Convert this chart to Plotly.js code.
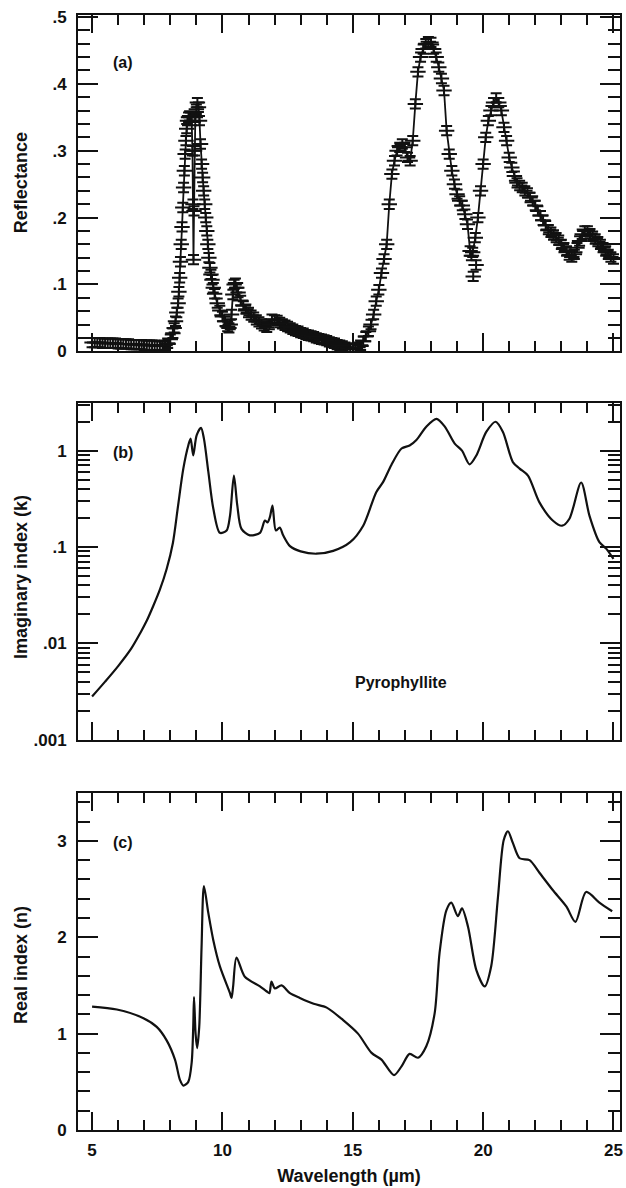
<!DOCTYPE html>
<html>
<head>
<meta charset="utf-8">
<script src="https://cdn.plot.ly/plotly-3.0.1.min.js"></script>
<style>html,body{margin:0;padding:0;background:#fff;}#chart{width:626px;height:1188px;}</style>
</head>
<body>
<div id="chart"></div>
<script>
// ---- Panel (a): measured reflectance ----
const wavelengthA = [5.0,5.1,5.2,5.3,5.4,5.5,5.6,5.7,5.8,5.9,6.0,6.1,6.2,6.3,6.4,6.5,6.6,6.7,6.8,6.9,7.0,7.1,7.2,7.3,7.4,7.5,7.6,7.7,7.8,7.9,8.0,8.1,8.15,8.2,8.25,8.3,8.33,8.36,8.39,8.42,8.45,8.48,8.51,8.54,8.57,8.6,8.63,8.66,8.7,8.74,8.78,8.82,8.85,8.87,8.89,8.91,8.93,8.96,9.0,9.04,9.08,9.12,9.16,9.2,9.24,9.28,9.32,9.36,9.4,9.44,9.48,9.52,9.56,9.6,9.65,9.7,9.8,9.9,10.0,10.1,10.2,10.25,10.3,10.35,10.4,10.45,10.5,10.55,10.6,10.7,10.8,10.9,11.0,11.1,11.2,11.3,11.4,11.5,11.6,11.7,11.8,11.9,12.0,12.1,12.2,12.3,12.4,12.5,12.6,12.7,12.8,12.9,13.0,13.1,13.2,13.3,13.4,13.5,13.6,13.7,13.8,13.9,14.0,14.1,14.2,14.3,14.4,14.5,14.6,14.7,14.8,14.9,15.0,15.1,15.2,15.3,15.4,15.5,15.6,15.7,15.8,15.9,16.0,16.1,16.2,16.3,16.4,16.5,16.6,16.7,16.8,16.9,17.0,17.1,17.2,17.3,17.4,17.5,17.6,17.7,17.8,17.9,18.0,18.1,18.2,18.3,18.4,18.5,18.6,18.7,18.8,18.9,19.0,19.1,19.2,19.3,19.4,19.5,19.55,19.6,19.7,19.8,19.9,20.0,20.1,20.2,20.3,20.4,20.5,20.6,20.7,20.8,20.9,21.0,21.1,21.2,21.3,21.4,21.5,21.6,21.7,21.8,21.9,22.0,22.1,22.2,22.3,22.4,22.5,22.6,22.7,22.8,22.9,23.0,23.1,23.2,23.3,23.4,23.5,23.6,23.7,23.8,23.9,24.0,24.1,24.2,24.3,24.4,24.5,24.6,24.7,24.8,24.9,25.0];
const reflectance = [0.013,0.013,0.013,0.013,0.012,0.012,0.012,0.012,0.012,0.012,0.011,0.011,0.011,0.011,0.011,0.010,0.010,0.010,0.010,0.010,0.009,0.009,0.009,0.009,0.009,0.008,0.008,0.008,0.009,0.012,0.018,0.027,0.035,0.045,0.058,0.072,0.089,0.110,0.134,0.160,0.186,0.215,0.245,0.270,0.295,0.315,0.333,0.345,0.350,0.352,0.350,0.345,0.300,0.220,0.137,0.210,0.300,0.350,0.362,0.372,0.365,0.345,0.310,0.280,0.260,0.240,0.220,0.200,0.180,0.160,0.140,0.125,0.115,0.107,0.095,0.086,0.072,0.061,0.052,0.045,0.037,0.035,0.040,0.055,0.085,0.100,0.102,0.095,0.088,0.076,0.068,0.063,0.058,0.054,0.051,0.047,0.044,0.041,0.038,0.036,0.040,0.048,0.047,0.046,0.043,0.041,0.039,0.037,0.035,0.033,0.031,0.030,0.028,0.027,0.025,0.024,0.023,0.022,0.020,0.019,0.018,0.017,0.016,0.014,0.013,0.012,0.010,0.009,0.008,0.006,0.005,0.004,0.003,0.004,0.006,0.009,0.015,0.022,0.030,0.040,0.055,0.075,0.092,0.117,0.138,0.160,0.220,0.265,0.285,0.300,0.305,0.310,0.305,0.290,0.285,0.315,0.370,0.418,0.440,0.452,0.460,0.463,0.462,0.452,0.440,0.425,0.408,0.390,0.330,0.295,0.270,0.250,0.235,0.225,0.218,0.205,0.190,0.150,0.143,0.148,0.170,0.200,0.240,0.280,0.320,0.345,0.360,0.372,0.379,0.372,0.360,0.335,0.315,0.290,0.275,0.262,0.252,0.248,0.245,0.240,0.237,0.230,0.225,0.218,0.210,0.203,0.196,0.188,0.182,0.178,0.174,0.170,0.166,0.160,0.155,0.150,0.144,0.141,0.145,0.155,0.165,0.175,0.180,0.180,0.176,0.172,0.168,0.164,0.160,0.155,0.150,0.145,0.141,0.138];
const outlierWavelength = [19.62, 19.73];
const outlierReflectance = [0.112, 0.129];
const reflectanceError = 0.007;

// ---- Panel (b): imaginary index k ----
const wavelengthK = [5.0,5.5,6.0,6.5,6.85,7.1,7.35,7.6,7.86,8.1,8.3,8.5,8.69,8.78,8.88,9.01,9.18,9.29,9.46,9.65,9.9,10.16,10.29,10.44,10.57,10.73,11.05,11.44,11.63,11.73,11.82,11.92,12.05,12.2,12.33,12.59,13.0,13.6,14.25,14.9,15.4,15.9,16.16,16.48,16.87,17.18,17.44,17.82,18.21,18.53,18.91,19.19,19.48,19.74,20.12,20.48,20.76,21.14,21.4,21.72,22.16,22.67,23.03,23.31,23.76,24.08,24.46,24.72,25.0];
const kValues = [0.0028,0.0040,0.0058,0.0088,0.0128,0.0172,0.0245,0.036,0.059,0.11,0.27,0.65,1.13,1.33,0.89,1.44,1.72,1.33,0.60,0.25,0.14,0.148,0.21,0.55,0.27,0.154,0.132,0.14,0.188,0.18,0.204,0.269,0.148,0.159,0.132,0.102,0.09,0.085,0.091,0.112,0.166,0.37,0.47,0.71,1.05,1.13,1.29,1.77,2.13,1.77,1.18,1.0,0.72,0.89,1.56,1.99,1.56,0.76,0.65,0.55,0.29,0.188,0.166,0.196,0.466,0.21,0.112,0.096,0.075];

// ---- Panel (c): real index n ----
const wavelengthN = [5.0,5.95,6.97,7.48,7.86,8.18,8.37,8.5,8.69,8.82,8.88,8.91,8.97,9.03,9.11,9.2,9.29,9.46,9.65,9.9,10.29,10.35,10.41,10.54,10.86,11.44,11.69,11.8,11.88,12.01,12.27,12.59,12.97,13.5,14.0,14.63,15.2,15.72,16.1,16.58,16.87,17.18,17.5,17.82,18.14,18.33,18.59,18.78,19.03,19.19,19.42,19.74,20.06,20.31,20.57,20.79,20.95,21.14,21.4,21.78,22.16,22.67,23.19,23.54,23.95,24.46,24.95];
const nValues = [1.28,1.25,1.16,1.07,0.93,0.73,0.52,0.46,0.50,0.70,1.07,1.38,1.0,0.85,1.07,1.90,2.53,2.25,1.97,1.70,1.42,1.37,1.49,1.79,1.59,1.49,1.44,1.42,1.54,1.47,1.50,1.42,1.37,1.31,1.27,1.14,1.0,0.80,0.73,0.57,0.66,0.79,0.75,0.87,1.21,1.84,2.28,2.36,2.22,2.30,2.11,1.66,1.49,1.70,2.42,3.01,3.10,2.98,2.82,2.80,2.67,2.49,2.32,2.16,2.47,2.36,2.27];

// ---- Tick labels ----
const xTickVals = [5,10,15,20,25];
const xTickText = ['5','10','15','20','25'];
const aTickVals = [0,0.1,0.2,0.3,0.4,0.5];
const aTickText = ['0','.1','.2','.3','.4','.5'];
const bTickVals = [0.001,0.01,0.1,1];
const bTickText = ['.001','.01','.1','1'];
const bMinorVals = [];
[0.001,0.01,0.1,1].forEach(d => { for (let m = 2; m <= 9; m++) bMinorVals.push(d*m); });
const cTickVals = [0,1,2,3];
const cTickText = ['0','1','2','3'];

const FONT = 'Liberation Sans, Arial, Helvetica, sans-serif';
const black = '#111';
const tickFont = {family: FONT, size: 17, color: black, weight: 'bold'};

function xAxis(showLabels, anchor) {
  return {
    range: [4.46, 25.25], anchor: anchor,
    showline: true, linewidth: 2, linecolor: black, mirror: 'ticks',
    ticks: 'inside', ticklen: 18, tickwidth: 2, tickcolor: black,
    tickmode: 'array', tickvals: xTickVals, ticktext: xTickText,
    showticklabels: showLabels, tickfont: tickFont, ticklabelstandoff: 4,
    minor: {tickmode: 'linear', tick0: 0, dtick: 1, ticks: 'inside', ticklen: 10, tickwidth: 2, tickcolor: black, showgrid: false},
    showgrid: false, zeroline: false, fixedrange: true
  };
}
function yAxisBase(domain, anchor) {
  return {
    domain: domain, anchor: anchor,
    showline: true, linewidth: 2, linecolor: black, mirror: 'ticks',
    ticks: 'inside', ticklen: 20, tickwidth: 2, tickcolor: black,
    tickfont: tickFont, ticklabelstandoff: 6,
    showgrid: false, zeroline: false, fixedrange: true
  };
}

const yA = Object.assign(yAxisBase([0.6984, 1.0], 'x3'), {
  range: [0, 0.503], tickmode: 'array', tickvals: aTickVals, ticktext: aTickText,
  minor: {tickmode: 'linear', tick0: 0, dtick: 0.02, ticks: 'inside', ticklen: 12, tickwidth: 2, tickcolor: black, showgrid: false}
});
const yB = Object.assign(yAxisBase([0.3501, 0.6517], 'x2'), {
  type: 'log', range: [-3, 0.49], tickmode: 'array', tickvals: bTickVals, ticktext: bTickText,
  minor: {tickmode: 'array', tickvals: bMinorVals, ticks: 'inside', ticklen: 12, tickwidth: 2, tickcolor: black, showgrid: false}
});
const yC = Object.assign(yAxisBase([0, 0.3025], 'x'), {
  range: [0, 3.5], tickmode: 'array', tickvals: cTickVals, ticktext: cTickText,
  minor: {tickmode: 'linear', tick0: 0, dtick: 0.2, ticks: 'inside', ticklen: 12, tickwidth: 2, tickcolor: black, showgrid: false}
});

const traces = [
  {
    x: wavelengthA, y: reflectance, xaxis: 'x3', yaxis: 'y3', type: 'scatter', mode: 'lines+markers',
    line: {color: black, width: 1.8},
    marker: {symbol: 'line-ew', size: 11, color: black, line: {color: black, width: 2}},
    error_y: {type: 'constant', value: reflectanceError, visible: true, color: black, thickness: 2, width: 5.5},
    hoverinfo: 'skip', showlegend: false
  },
  {
    x: outlierWavelength, y: outlierReflectance, xaxis: 'x3', yaxis: 'y3', type: 'scatter', mode: 'markers',
    marker: {symbol: 'line-ew', size: 11, color: black, line: {color: black, width: 2}},
    error_y: {type: 'constant', value: reflectanceError, visible: true, color: black, thickness: 2, width: 5.5},
    hoverinfo: 'skip', showlegend: false
  },
  {
    x: wavelengthK, y: kValues, xaxis: 'x2', yaxis: 'y2', type: 'scatter', mode: 'lines',
    line: {color: black, width: 2.2, shape: 'spline', smoothing: 0.8},
    hoverinfo: 'skip', showlegend: false
  },
  {
    x: wavelengthN, y: nValues, xaxis: 'x', yaxis: 'y', type: 'scatter', mode: 'lines',
    line: {color: black, width: 2.2, shape: 'spline', smoothing: 0.8},
    hoverinfo: 'skip', showlegend: false
  }
];

const titleFont = {family: FONT, size: 18, color: black, weight: 'bold'};
const labelFont = {family: FONT, size: 16, color: black, weight: 'bold'};
const yTitleX = (21 - 78) / 542;

const layout = {
  width: 626, height: 1188,
  margin: {l: 78, r: 6, t: 15, b: 58},
  paper_bgcolor: '#fff', plot_bgcolor: '#fff',
  showlegend: false,
  xaxis: Object.assign(xAxis(true, 'y'), {title: {text: 'Wavelength (µm)', font: titleFont, standoff: 10}}),
  xaxis2: Object.assign(xAxis(false, 'y2'), {matches: 'x'}),
  xaxis3: Object.assign(xAxis(false, 'y3'), {matches: 'x'}),
  yaxis: yC, yaxis2: yB, yaxis3: yA,
  annotations: [
    {text: 'Reflectance', xref: 'paper', yref: 'paper', x: yTitleX, y: 0.8492, textangle: -90, showarrow: false, font: titleFont, xanchor: 'center', yanchor: 'middle'},
    {text: 'Imaginary index (k)', xref: 'paper', yref: 'paper', x: yTitleX, y: 0.4960, textangle: -90, showarrow: false, font: titleFont, xanchor: 'center', yanchor: 'middle'},
    {text: 'Real index (n)', xref: 'paper', yref: 'paper', x: yTitleX, y: 0.1480, textangle: -90, showarrow: false, font: titleFont, xanchor: 'center', yanchor: 'middle'},
    {text: '(a)', xref: 'paper', yref: 'paper', x: 0.0600, y: 0.9578, showarrow: false, font: labelFont, xanchor: 'left', yanchor: 'middle'},
    {text: '(b)', xref: 'paper', yref: 'paper', x: 0.0600, y: 0.6077, showarrow: false, font: labelFont, xanchor: 'left', yanchor: 'middle'},
    {text: '(c)', xref: 'paper', yref: 'paper', x: 0.0600, y: 0.2576, showarrow: false, font: labelFont, xanchor: 'left', yanchor: 'middle'},
    {text: 'Pyrophyllite', xref: 'paper', yref: 'paper', x: 0.5960, y: 0.4013, showarrow: false, font: labelFont, xanchor: 'center', yanchor: 'middle'}
  ]
};

Plotly.newPlot('chart', traces, layout, {staticPlot: true, displayModeBar: false});
</script>
</body>
</html>
